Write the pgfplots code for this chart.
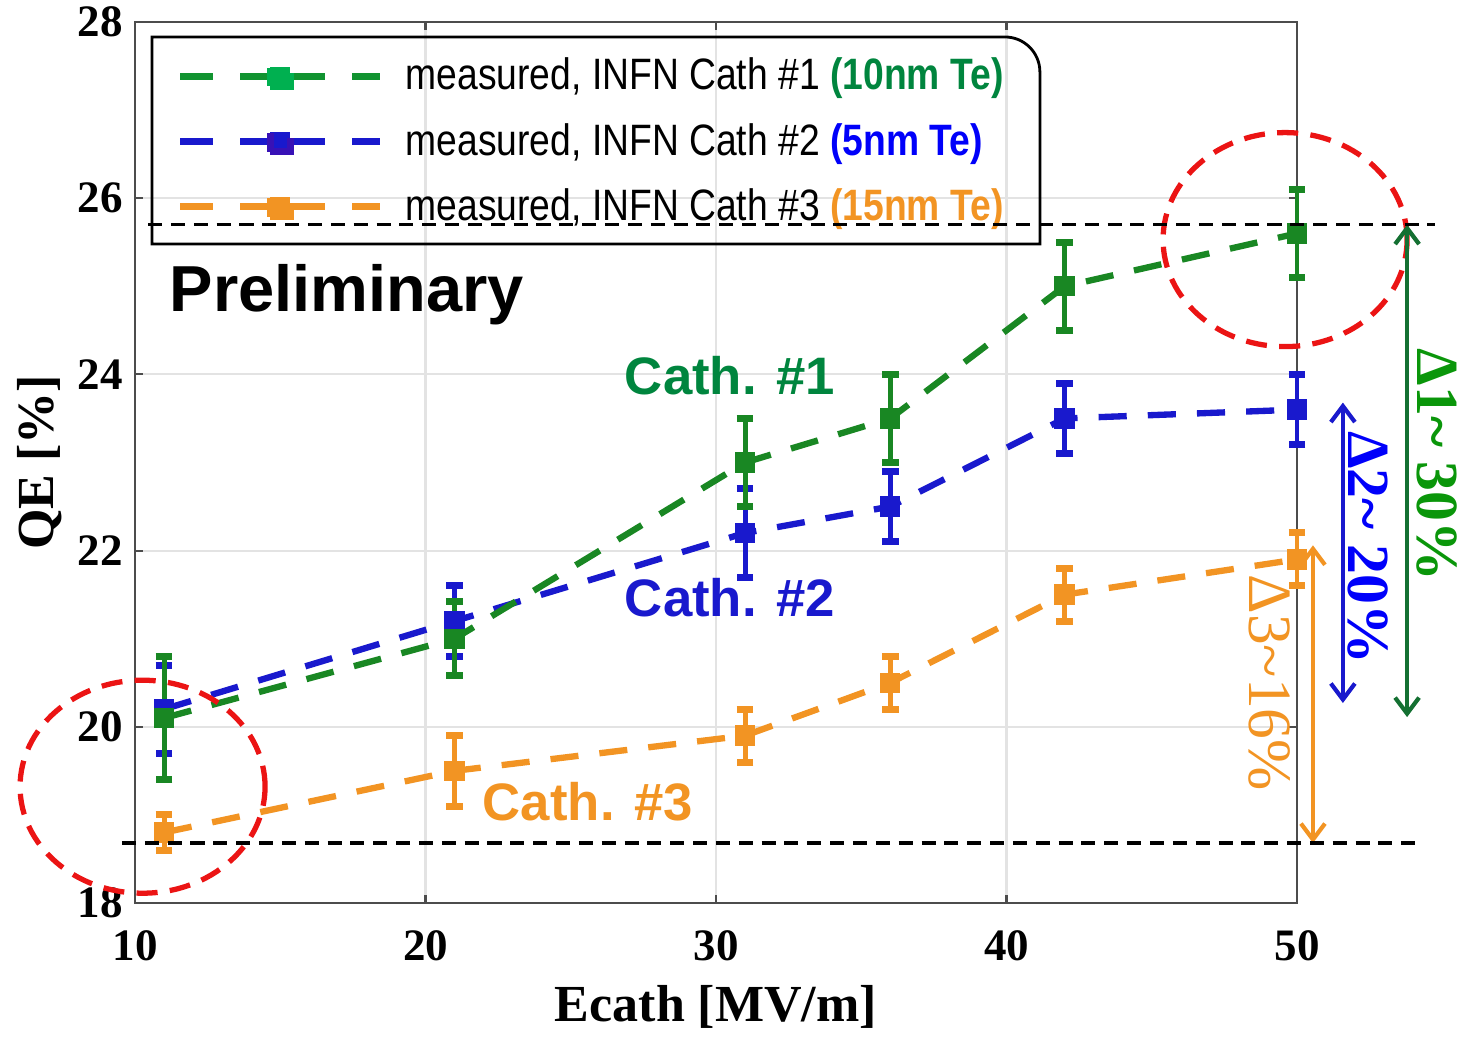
\documentclass[border=0pt]{standalone}
\usepackage{pgfplots}
\usepackage{pgfplotstable}
\pgfplotsset{compat=1.18}
\usetikzlibrary{arrows.meta}
\usepackage{fontspec}
\setmainfont{Liberation Serif}
\newfontfamily\arial{Liberation Sans}
\definecolor{cgreen}{RGB}{25,135,35}
\definecolor{lgreen}{RGB}{0,176,80}
\definecolor{tgreen}{RGB}{0,133,62}
\definecolor{cblue}{RGB}{25,25,205}
\definecolor{tblue}{RGB}{0,0,250}
\definecolor{corange}{RGB}{242,148,35}
\definecolor{agreen}{RGB}{20,112,50}
\definecolor{dgreen}{RGB}{10,150,10}
\definecolor{cred}{RGB}{235,20,20}
\pgfplotstableread{
x y e
11 20.1 0.7
21 21.0 0.42
31 23.0 0.5
36 23.5 0.5
42 25.0 0.5
50 25.6 0.5
}\cathone
\pgfplotstableread{
x y e
11 20.2 0.5
21 21.2 0.4
31 22.2 0.5
36 22.5 0.4
42 23.5 0.4
50 23.6 0.4
}\cathtwo
\pgfplotstableread{
x y e
11 18.8 0.2
21 19.5 0.4
31 19.9 0.3
36 20.5 0.3
42 21.5 0.3
50 21.9 0.3
}\caththree
\pgfplotsset{
  dline/.style={line width=1.8pt, dash pattern=on 8pt off 6pt, mark=none},
  ebars/.style={solid, only marks, mark=square*, mark size=2.7pt,
    error bars/y dir=both, error bars/y explicit,
    error bars/error bar style={solid, line width=1.4pt},
    error bars/error mark options={solid, line width=2pt, mark size=2.4pt, rotate=90}},
  lgimg/.style={line width=2pt, mark=square*, mark size=2.8pt, mark options={solid}},
}
\newcommand\lt[1]{\scalebox{1}[1.18]{#1}}
\begin{document}
\begin{tikzpicture}
\path[use as bounding box] (-1.35,-1.34) rectangle (13.26,9.03);
\begin{axis}[at={(0,0)}, anchor=south west, scale only axis,
  width=11.62cm, height=8.81cm,
  xmin=10, xmax=50, ymin=18, ymax=28, clip=false,
  xtick={10,20,30,40,50}, ytick={18,20,22,24,26,28},
  grid=major, major grid style={gray!22, line width=0.6pt},
  tick align=inside, major tick length=0.08cm,
  tick style={black!70, line width=0.6pt},
  axis line style={black!70, line width=0.8pt},
  /pgf/number format/assume math mode=true,
  ticklabel style={font=\fontsize{12.8}{14}\selectfont\bfseries},
  xticklabel shift=4.2pt,
  xlabel={Ecath [MV/m]}, ylabel={QE [\%]},
  label style={font=\fontsize{14.8}{16}\selectfont\bfseries},
  xlabel style={at={(axis description cs:0.5,-0.118)}, anchor=center},
  ylabel style={at={(axis description cs:-0.0818,0.5)}, anchor=center, rotate=0},
  legend style={draw=none, fill=none, inner sep=0pt, anchor=north west,
    at={(axis description cs:0.0353,0.968)}, row sep=4pt,
    /tikz/every odd column/.append style={column sep=0.15cm},
    font=\arial\fontsize{10.6}{12.5}\selectfont, cells={anchor=west}},
  legend image code/.code={\draw[mark repeat=2, mark phase=2, #1, dash pattern=on 0.33cm off 0.27cm on 0.85cm off 0.27cm on 0.3cm] plot coordinates {(0cm,0cm)(1cm,0cm)(2cm,0cm)};},
]
\addlegendimage{lgimg, color=cgreen!70!lgreen, mark options={fill=lgreen, draw=lgreen}}
\addlegendentry{\lt{measured, INFN Cath \#1 \textcolor{tgreen}{\textbf{(10nm Te)}}}}
\addlegendimage{lgimg, color=cblue, mark options={fill=cblue, draw=cblue!70!violet}}
\addlegendentry{\lt{measured, INFN Cath \#2 \textcolor{tblue}{\textbf{(5nm Te)}}}}
\addlegendimage{lgimg, color=corange, mark options={fill=corange, draw=corange}}
\addlegendentry{\lt{measured, INFN Cath \#3 \textcolor{corange}{\textbf{(15nm Te)}}}}

\addplot[dline, color=cblue, forget plot] table[x=x, y=y] {\cathtwo};
\addplot[dline, color=cgreen, forget plot] table[x=x, y=y] {\cathone};
\addplot[dline, color=corange, forget plot] table[x=x, y=y] {\caththree};
\addplot[ebars, color=cblue, forget plot] table[x=x, y=y, y error=e] {\cathtwo};
\addplot[ebars, color=cgreen, forget plot] table[x=x, y=y, y error=e] {\cathone};
\addplot[ebars, color=corange, forget plot] table[x=x, y=y, y error=e] {\caththree};

\coordinate (lgSW) at (axis cs:10.585,25.48);
\coordinate (lgNE) at (axis cs:41.15,27.83);
\coordinate (h1a) at (axis cs:10.45,25.7);
\coordinate (h1b) at (axis cs:54.75,25.7);
\coordinate (h2a) at (axis cs:9.55,18.68);
\coordinate (h2b) at (axis cs:54.25,18.68);

\draw[cred, line width=1.5pt, dash pattern=on 6pt off 3.5pt] (axis cs:10.26,19.32) ellipse [x radius=1.225cm, y radius=1.065cm];
\draw[cred, line width=1.5pt, dash pattern=on 6pt off 3.5pt] (axis cs:49.59,25.53) ellipse [x radius=1.22cm, y radius=1.07cm];

\draw[agreen, line width=1.2pt, {Straight Barb[length=1.6mm,width=2.4mm]}-{Straight Barb[length=1.6mm,width=2.4mm]}] (axis cs:53.79,25.7) -- (axis cs:53.79,20.11);
\draw[cblue, line width=1.2pt, {Straight Barb[length=1.6mm,width=2.4mm]}-{Straight Barb[length=1.6mm,width=2.4mm]}] (axis cs:51.58,23.68) -- (axis cs:51.58,20.27);
\draw[corange, line width=1.2pt, {Straight Barb[length=1.6mm,width=2.4mm]}-{Straight Barb[length=1.6mm,width=2.4mm]}] (axis cs:50.55,22.06) -- (axis cs:50.55,18.68);

\node[font=\arial\fontsize{18.5}{20}\selectfont\bfseries, anchor=center] at (axis cs:17.3,24.90) {Preliminary};
\node[font=\arial\fontsize{15}{17}\selectfont\bfseries, text=tgreen, anchor=center] at (axis cs:30.48,23.99) {Cath. \#1};
\node[font=\arial\fontsize{15}{17}\selectfont\bfseries, text=cblue, anchor=center] at (axis cs:30.48,21.47) {Cath. \#2};
\node[font=\arial\fontsize{15}{17}\selectfont\bfseries, text=corange, anchor=center] at (axis cs:25.59,19.15) {Cath. \#3};

\node[rotate=-90, font=\fontsize{17}{18}\selectfont\bfseries, text=dgreen, anchor=center] at (axis cs:54.82,22.97) {Δ1\textasciitilde{} 30\%};
\node[rotate=-90, font=\fontsize{17}{18}\selectfont\bfseries, text=tblue, anchor=center] at (axis cs:52.44,22.03) {Δ2\textasciitilde{} 20\%};
\node[rotate=-90, font=\fontsize{17.5}{18}\selectfont, text=corange, anchor=center] at (axis cs:49.07,20.5) {Δ3\textasciitilde{}16\%};
\end{axis}
\draw[line width=0.8pt] (lgSW) -- (lgSW |- lgNE) -- ([xshift=-0.35cm]lgNE) arc[start angle=90, end angle=0, radius=0.35cm] -- (lgNE |- lgSW) -- cycle;
\draw[black, line width=1pt, dash pattern=on 4pt off 2.5pt] (h1a) -- (h1b);
\draw[black, line width=1pt, dash pattern=on 4pt off 2.5pt] (h2a) -- (h2b);
\end{tikzpicture}
\end{document}
